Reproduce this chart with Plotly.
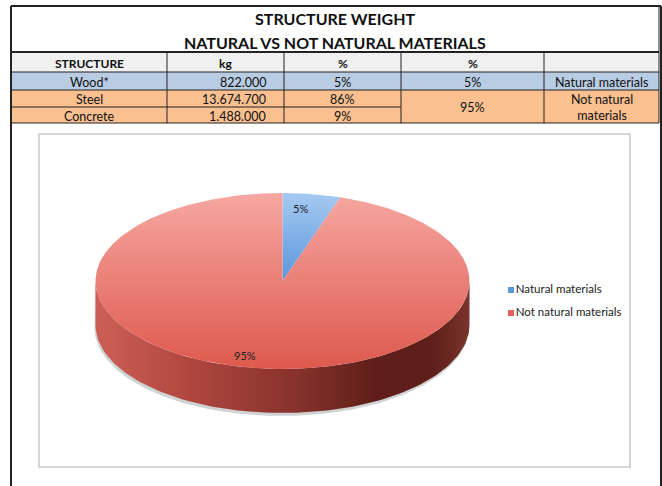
import numpy as np
import plotly.graph_objects as go

# ---------------- data ----------------
title_lines = ["STRUCTURE WEIGHT", "NATURAL VS NOT NATURAL MATERIALS"]
header = ["STRUCTURE", "kg", "%", "%", ""]
structures = ["Wood*", "Steel", "Concrete"]
kg_labels = ["822.000", "13.674.700", "1.488.000"]
pct_labels = ["5%", "86%", "9%"]
groups = ["Natural materials", "Not natural materials"]
group_table_labels = ["Natural materials", "Not natural<br>materials"]
group_rows = [[0], [1, 2]]
group_pct = [5, 95]
group_pct_labels = ["5%", "95%"]

# ---------------- layout constants ----------------
W, H = 662, 486
FONT = "Lato"
col_edges = [11, 167, 284, 401, 544, 659]
title_top, title_bot = 6, 52
row_edges = [52, 72, 90, 107, 123]
row_fill = ["#b8cce4", "#fac090", "#fac090"]
group_fill = ["#b8cce4", "#fac090"]
header_fill = "#f0f0f0"
line_col = "#222222"

shapes = []
annots = []

def rect(x0, y0, x1, y1, fill, line=None, width=0, layer="below"):
    shapes.append(dict(type="rect", xref="x", yref="y", x0=x0, y0=y0, x1=x1, y1=y1,
                       fillcolor=fill, line=dict(color=line or fill, width=width), layer=layer))

def hline(x0, x1, y, w=1, c=line_col):
    shapes.append(dict(type="line", xref="x", yref="y", x0=x0, x1=x1, y0=y, y1=y,
                       line=dict(color=c, width=w), layer="above"))

def vline(x, y0, y1, w=1, c=line_col):
    shapes.append(dict(type="line", xref="x", yref="y", x0=x, x1=x, y0=y0, y1=y1,
                       line=dict(color=c, width=w), layer="above"))

def text(x, y, s, size=12, bold=False, xanchor="center", color="#111111"):
    annots.append(dict(x=x, y=y, xref="x", yref="y", text=("<b>%s</b>" % s) if bold else s,
                       showarrow=False, xanchor=xanchor, yanchor="middle",
                       font=dict(family=FONT, size=size, color=color)))

# header fill
rect(col_edges[0], row_edges[0], col_edges[-1], row_edges[1], header_fill)
# structure rows (columns 0..2)
for i in range(len(structures)):
    rect(col_edges[0], row_edges[i + 1], col_edges[3], row_edges[i + 2], row_fill[i])
# group merged cells (columns 3..4)
for g, rows in enumerate(group_rows):
    rect(col_edges[3], row_edges[rows[0] + 1], col_edges[-1], row_edges[rows[-1] + 2], group_fill[g])

# grid lines: full-width lines only at group boundaries, partial lines inside groups
hline(col_edges[0], col_edges[-1], row_edges[0])
hline(col_edges[0], col_edges[-1], row_edges[1])
for g, rows in enumerate(group_rows):
    hline(col_edges[0], col_edges[-1], row_edges[rows[-1] + 2])
    for r in rows[1:]:
        hline(col_edges[0], col_edges[3], row_edges[r + 1])
for x in col_edges[1:-1]:
    vline(x, row_edges[0], row_edges[-1])
# outer frame
hline(col_edges[0], 661, title_top, w=2)
vline(col_edges[0], title_top, H, w=2)
vline(661, title_top, H, w=2)
vline(col_edges[-1], title_top, row_edges[-1], w=1)
hline(col_edges[0], col_edges[-1], title_bot, w=2)

# texts
text((col_edges[0] + col_edges[-1]) / 2, 18, title_lines[0], size=16, bold=True)
text((col_edges[0] + col_edges[-1]) / 2, 42, title_lines[1], size=16, bold=True)
for j, h in enumerate(header):
    if h:
        text((col_edges[j] + col_edges[j + 1]) / 2, (row_edges[0] + row_edges[1]) / 2 + 1, h, size=12, bold=True)
for i in range(len(structures)):
    yc = (row_edges[i + 1] + row_edges[i + 2]) / 2 + 1
    text((col_edges[0] + col_edges[1]) / 2, yc, structures[i], size=12.5)
    text(col_edges[2] - 16, yc, kg_labels[i], size=12.5, xanchor="right")
    text((col_edges[2] + col_edges[3]) / 2, yc, pct_labels[i], size=12.5)
for g, rows in enumerate(group_rows):
    yc = (row_edges[rows[0] + 1] + row_edges[rows[-1] + 2]) / 2 + 1
    text((col_edges[3] + col_edges[4]) / 2, yc, group_pct_labels[g], size=12.5)
    text((col_edges[4] + col_edges[5]) / 2, yc, group_table_labels[g], size=12.5)

# chart box
rect(39, 134, 630, 467, "rgba(0,0,0,0)", line="#c8c8c8", width=1.5, layer="below")

# ---------------- 3D-looking pie ----------------
cx, cy, rx, ry, depth = 282.5, 281, 187, 88, 44

def ell(theta_deg, dy=0.0):
    t = np.radians(theta_deg)
    return cx + rx * np.cos(t), cy - ry * np.sin(t) + dy

fig = go.Figure()

# shadow under the pie
t = np.linspace(180, 360, 120)
sx, sy = ell(t, depth + 2)
sx2, sy2 = ell(t[::-1], 0)
fig.add_trace(go.Scatter(x=np.r_[sx - 1, sx2], y=np.r_[sy + 1, sy2], fill="toself",
                         fillcolor="rgba(120,130,130,0.35)", line=dict(width=0),
                         mode="lines", hoverinfo="skip", showlegend=False))

# side (front half)
tx, ty = ell(t, 0)
bx, by = ell(t[::-1], depth)
fig.add_trace(go.Scatter(
    x=np.r_[tx, bx], y=np.r_[ty, by], fill="toself", mode="lines", line=dict(width=0),
    fillgradient=dict(type="horizontal",
                      colorscale=[[0, "#cd5f56"], [0.25, "#b0473f"], [0.55, "#85302a"],
                                  [0.75, "#5f1e19"], [0.9, "#5e1e19"], [1, "#7a342d"]]),
    hoverinfo="skip", showlegend=False))

# top faces (vertical gradient: colorscale 0 = bottom of the screen)
total = float(sum(group_pct))
start = 90.0
slice_grad = [
    [[0, "#5a96dc"], [1, "#a6caf1"]],
    [[0, "#de594e"], [1, "#f6a7a1"]],
]
for g, v in enumerate(group_pct):
    sweep = 360.0 * v / total
    ang = np.linspace(start, start - sweep, max(int(sweep * 2), 8))
    px, py = ell(ang, 0)
    fig.add_trace(go.Scatter(
        x=np.r_[cx, px, cx], y=np.r_[cy, py, cy], fill="toself", mode="lines",
        line=dict(width=0),
        fillgradient=dict(type="vertical", colorscale=slice_grad[g]),
        hoverinfo="skip", showlegend=False))
    start -= sweep

# percentage labels on slices
label_pos = [(300, 208), (245, 355)]
for g in range(len(groups)):
    text(label_pos[g][0], label_pos[g][1], group_pct_labels[g], size=11, color="#222222")

# legend (markers + text)
leg_y = [290, 313]
fig.add_trace(go.Scatter(
    x=[511, 511], y=leg_y, mode="markers+text",
    marker=dict(symbol="square", size=6, color=["#5b98de", "#e4605a"]),
    text=groups, textposition="middle right",
    textfont=dict(family=FONT, size=11.5, color="#222222"),
    hoverinfo="skip", showlegend=False))

fig.update_layout(
    width=W, height=H, margin=dict(l=0, r=0, t=0, b=0),
    paper_bgcolor="white", plot_bgcolor="white",
    xaxis=dict(range=[0, W], visible=False, fixedrange=True),
    yaxis=dict(range=[H, 0], visible=False, fixedrange=True),
    shapes=shapes, annotations=annots, showlegend=False,
)
fig.write_html("out.html", config={"displayModeBar": False},
               post_script="document.body.style.margin='0';document.body.style.overflow='hidden';")
